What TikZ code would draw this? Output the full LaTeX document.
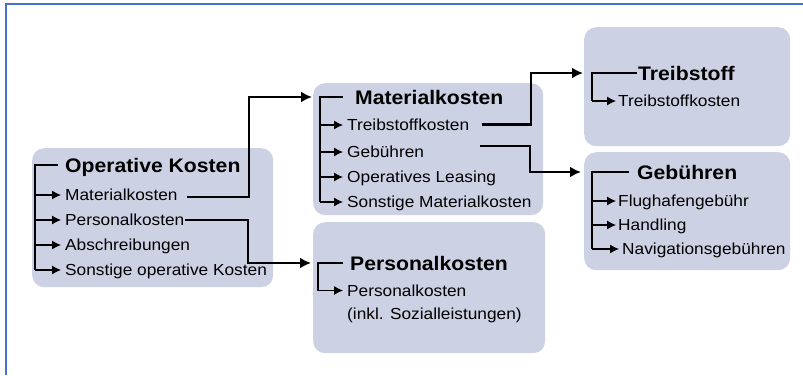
\documentclass[tikz,border=0pt]{standalone}
\usepackage{fontspec}
\setmainfont{Liberation Sans}[FakeStretch=1.08]
\usetikzlibrary{arrows.meta,calc}
\definecolor{boxfill}{RGB}{205,209,228}
\definecolor{frameblue}{RGB}{68,114,196}
\begin{document}
\begin{tikzpicture}[x=1pt,y=-1pt,
 box/.style={fill=boxfill, rounded corners=12pt, draw=none, inner sep=0pt, anchor=north west},
 ttl/.style={anchor=west, inner sep=0pt, font=\fontsize{19.6}{22}\selectfont\bfseries, text height=14pt, text depth=0pt},
 itm/.style={anchor=west, inner sep=0pt, font=\fontsize{16}{19}\selectfont, text height=11.5pt, text depth=0pt},
 tline/.style={line width=1.1pt},
 tarr/.style={line width=1.1pt, -{Latex[length=9pt,width=9pt]}},
 conn/.style={line width=2.3pt, -{Latex[length=11pt,width=11pt]}},
]
\useasboundingbox (0,0) rectangle (803,375);
\draw[frameblue, line width=1.5pt] (6,375) -- (6,4) -- (803,4);

% boxes
\node[box, minimum width=241pt, minimum height=139pt] (bOK) at (32,148) {};
\node[box, minimum width=230pt, minimum height=132pt] (bMK) at (313,83) {};
\node[box, minimum width=232pt, minimum height=131pt] (bPK) at (313,222) {};
\node[box, minimum width=206pt, minimum height=119pt] (bTB) at (584,27) {};
\node[box, minimum width=206pt, minimum height=118pt] (bGB) at (584,152) {};

% Operative Kosten
\node[ttl] (tOK) at (65,165) {Operative Kosten};
\node[itm] (o1) at (65,195) {Materialkosten};
\node[itm] (o2) at (65,220) {Personalkosten};
\node[itm] (o3) at (65,245) {Abschreibungen};
\node[itm] (o4) at (65,270) {Sonstige operative Kosten};
\coordinate (vOK) at (35,0);
\draw[tline] ([xshift=-7pt]tOK.west) -- (vOK |- tOK.west) -- (vOK |- o4.west);
\foreach \i in {o1,o2,o3,o4} \draw[tarr] (vOK |- \i.west) -- ([xshift=-4pt]\i.west);

% Materialkosten
\node[ttl] (tMK) at (355,97) {Materialkosten};
\node[itm] (m1) at (347,125) {Treibstoffkosten};
\node[itm] (m2) at (347,152) {Gebühren};
\node[itm] (m3) at (347,177) {Operatives Leasing};
\node[itm] (m4) at (347,202) {Sonstige Materialkosten};
\coordinate (vMK) at (320,0);
\draw[tline] ([xshift=-12pt]tMK.west) -- (vMK |- tMK.west) -- (vMK |- m4.west);
\foreach \i in {m1,m2,m3,m4} \draw[tarr] (vMK |- \i.west) -- ([xshift=-4pt]\i.west);

% Personalkosten
\node[ttl] (tPK) at (350,263) {Personalkosten};
\node[itm] (p1) at (347,290.5) {Personalkosten};
\node[itm] (p2) at (347,313.5) {(inkl. Sozialleistungen)};
\coordinate (vPK) at (318,0);
\draw[tline] ([xshift=-7pt]tPK.west) -- (vPK |- tPK.west) -- (vPK |- p1.west);
\draw[tarr] (vPK |- p1.west) -- ([xshift=-4pt]p1.west);

% Treibstoff
\node[ttl] (tTB) at (638,73) {Treibstoff};
\node[itm] (r1) at (618,101) {Treibstoffkosten};
\coordinate (vTB) at (592,0);
\draw[tline] ([xshift=-1pt]tTB.west) -- (vTB |- tTB.west) -- (vTB |- r1.west);
\draw[tarr] (vTB |- r1.west) -- ([xshift=-2pt]r1.west);

% Gebuehren
\node[ttl] (tGB) at (637,172) {Gebühren};
\node[itm] (g1) at (618,201) {Flughafengebühr};
\node[itm] (g2) at (618,225) {Handling};
\node[itm] (g3) at (622,249) {Navigationsgebühren};
\coordinate (vGB) at (592,0);
\draw[tline] ([xshift=-8pt]tGB.west) -- (vGB |- tGB.west) -- (vGB |- g3.west);
\draw[tarr] (vGB |- g1.west) -- ([xshift=-2pt]g1.west);
\draw[tarr] (vGB |- g2.west) -- ([xshift=-2pt]g2.west);
\draw[tarr] (vGB |- g3.west) -- ([xshift=-3pt]g3.west);

% connectors
\coordinate (s1) at (187,197);
\coordinate (k1) at (249,0);
\draw[conn] (s1) -| (k1 |- tMK.west) -- ([xshift=-1pt]bMK.west |- tMK.west);
\coordinate (s2) at (185,220);
\coordinate (k2) at (248,0);
\draw[conn] (s2) -| (k2 |- tPK.west) -- ([xshift=-2pt]bPK.west |- tPK.west);
\coordinate (s3) at (482,124.5);
\coordinate (k3) at (531,0);
\draw[conn] (s3) -| (k3 |- tTB.west) -- ([xshift=-1pt]bTB.west |- tTB.west);
\coordinate (s4) at (480,146);
\coordinate (k4) at (530,0);
\draw[conn] (s4) -| (k4 |- tGB.west) -- ([xshift=-3pt]bGB.west |- tGB.west);
\end{tikzpicture}
\end{document}
